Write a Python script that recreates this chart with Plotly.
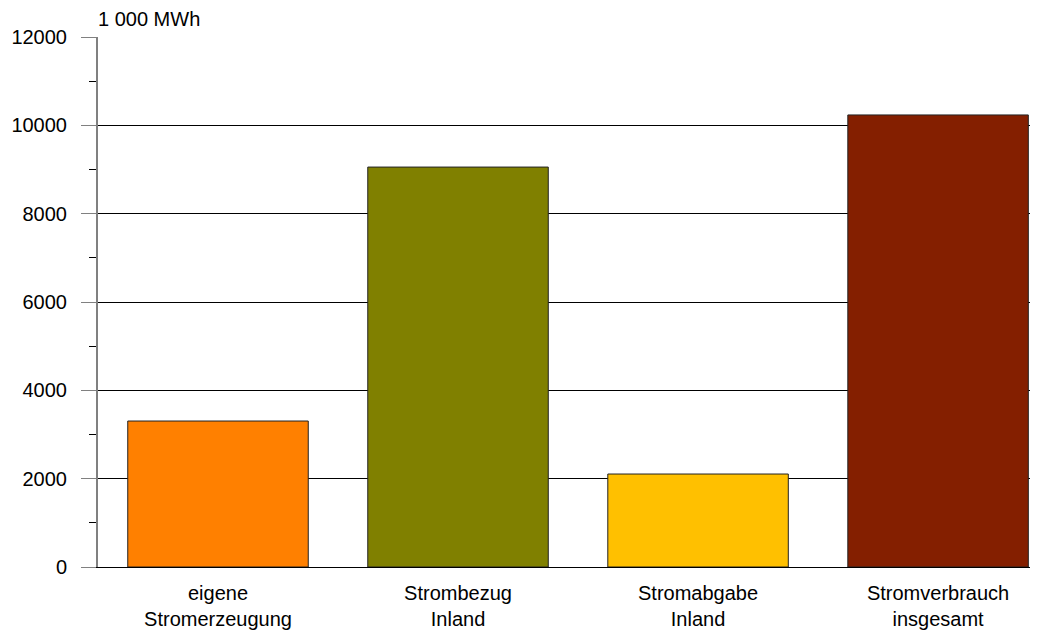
import plotly.graph_objects as go

categories = ["eigene<br>Stromerzeugung", "Strombezug<br>Inland", "Stromabgabe<br>Inland", "Stromverbrauch<br>insgesamt"]
values = [3305, 9055, 2105, 10235]
colors = ["#FF8000", "#808000", "#FFC000", "#841F00"]
ytick_vals = [0, 2000, 4000, 6000, 8000, 10000, 12000]
ytick_text = ["0", "2000", "4000", "6000", "8000", "10000", "12000"]

fig = go.Figure(go.Bar(
    x=categories, y=values,
    marker=dict(color=colors, line=dict(color="#222222", width=1)),
    width=0.752,
))
fig.update_layout(
    width=1050, height=634,
    margin=dict(l=90, r=28, t=29, b=75, autoexpand=False),
    plot_bgcolor="white", paper_bgcolor="white",
    font=dict(family="Liberation Sans, Arial", size=20, color="#000000"),
    showlegend=False,
)
fig.update_yaxes(
    range=[0, 12000], tickvals=ytick_vals, ticktext=ytick_text,
    showgrid=True, gridcolor="#000000", gridwidth=1,
    showline=True, linecolor="#808080", linewidth=2,
    ticks="outside", ticklen=15, tickcolor="#808080",
    ticklabelstandoff=10,
    minor=dict(dtick=1000, ticks="outside", ticklen=7, tickcolor="#000000", showgrid=False),
    zeroline=False, tickfont=dict(size=20), automargin=False,
)
fig.update_xaxes(
    range=[-0.5, 3.383],
    showline=True, linecolor="#000000", linewidth=1, ticks="",
    tickfont=dict(size=20), automargin=False, ticklabelstandoff=8,
)
fig.add_annotation(
    text="1 000 MWh", xref="paper", yref="paper", x=0.0, y=1.0,
    xanchor="left", yanchor="bottom", showarrow=False,
    font=dict(size=20), xshift=-2, yshift=5,
)
fig.write_html("out.html")
